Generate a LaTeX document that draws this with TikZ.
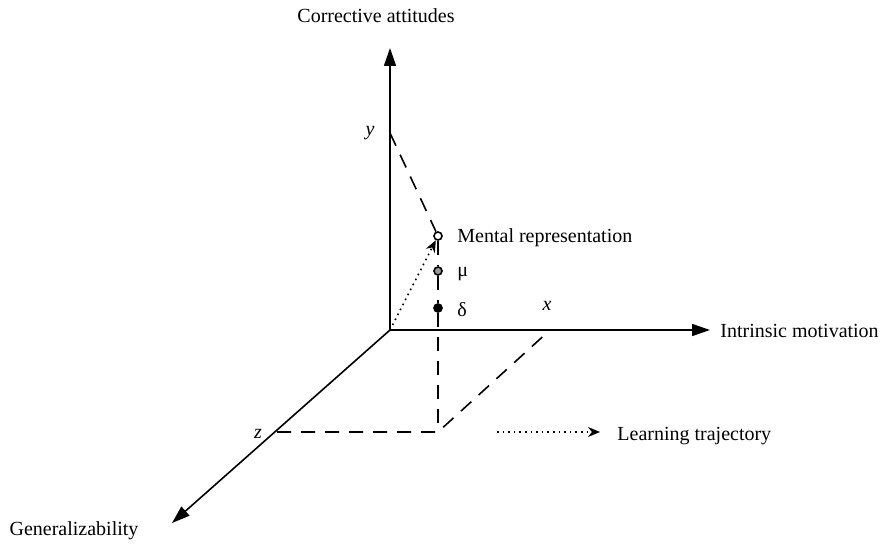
\documentclass[tikz,border=0pt]{standalone}
\usepackage{fontspec}
\setmainfont{Liberation Serif}
\usetikzlibrary{arrows.meta}
\usetikzlibrary{positioning}
\tikzstyle{axis}=[thick,-{Triangle[length=9pt,width=6pt]}]
\tikzstyle{guide}=[thick,dash pattern=on 7pt off 5pt]
\tikzstyle{dot}=[circle,draw,thick,minimum size=4pt,inner sep=0pt]
\begin{document}
\begin{tikzpicture}[
  x=0.5pt,y=-0.5pt,
  font=\fontsize{10}{12}\selectfont,
  label/.style={inner sep=1pt},
  trajectory/.style={thick,dotted,-{Stealth[length=6pt,width=5pt]}},
]
  \useasboundingbox (0,0) rectangle (883,545);
  % axes
  \coordinate (o) at (390,330);
  \coordinate (ytip) at (390,48);
  \coordinate (xtip) at (710,330);
  \coordinate (ztip) at (172,523);
  \draw[axis] (o) -- (ytip);
  \draw[axis] (o) -- (xtip);
  \draw[axis] (o) -- (ztip);
  \node[label,anchor=south] (ylab) at (376,25) {Corrective attitudes};
  \node[label,anchor=west] (xlab) at (718,331) {Intrinsic motivation};
  \node[label] (zlab) at (74,531) {Generalizability};
  % projections
  \coordinate (yp) at (390,133);
  \coordinate (xp) at (550,330);
  \coordinate (zp) at (277,432);
  \coordinate (base) at (438,432);
  \node[label] at (370,133) {\itshape y};
  \node[label] at (547,306) {\itshape x};
  \node[label] at (258,434) {\itshape z};
  \node[dot,fill=white] (mr) at (438,236) {};
  \node[dot,fill=black!40] (mu) at (438,271) {};
  \node[dot,fill=black] (delta) at (438,308) {};
  \draw[guide] (yp) -- (mr);
  \draw[guide] (mr) -- (mu) -- (delta) -- (base);
  \draw[guide] (zp) -- (base) -- (xp);
  \draw[trajectory] (o) -- (mr);
  \node[label,anchor=west] at (455,238) {Mental representation};
  \node[label,anchor=west] at (455,274) {μ};
  \node[label,anchor=west] at (455,310) {δ};
  % legend
  \coordinate (l1) at (497,432);
  \coordinate (l2) at (600,432);
  \draw[trajectory] (l1) -- (l2);
  \node[label,anchor=west] (legend) at (615,436) {Learning trajectory};
\end{tikzpicture}
\end{document}
